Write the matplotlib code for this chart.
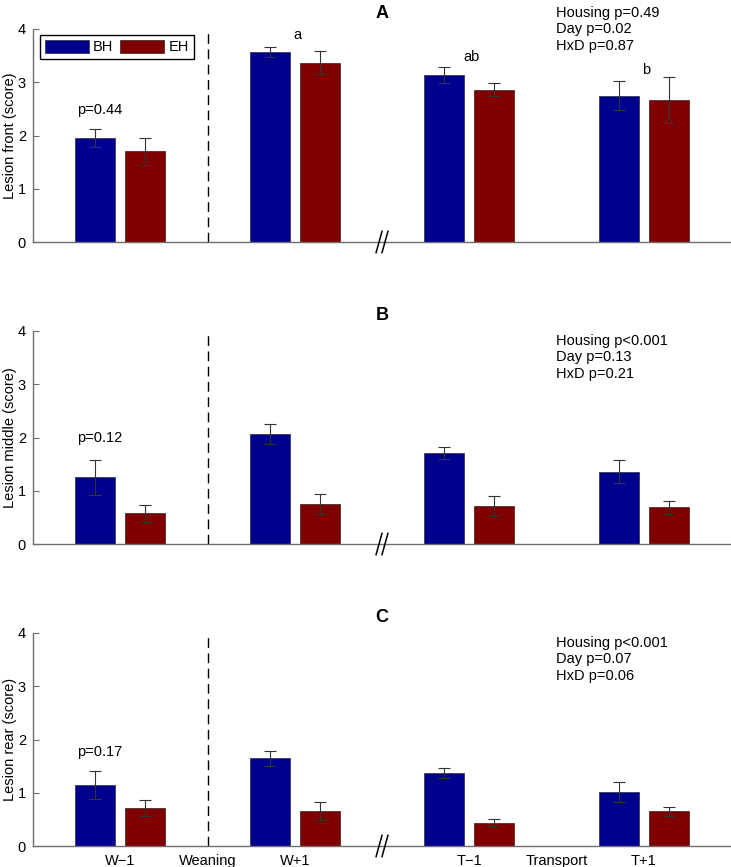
import matplotlib
matplotlib.use("Agg")
import matplotlib.pyplot as plt
import matplotlib.transforms as mtransforms
import numpy as np

plt.rcParams['font.family'] = ['Liberation Sans', 'DejaVu Sans']

# --- data -------------------------------------------------------------
days = ["W\u22121", "W+1", "T\u22121", "T+1"]
between = ["Weaning", "Transport"]
groups = ["BH", "EH"]

front_bh = [1.95, 3.57, 3.14, 2.75]
front_bh_err = [0.17, 0.10, 0.15, 0.28]
front_eh = [1.70, 3.37, 2.86, 2.67]
front_eh_err = [0.25, 0.22, 0.12, 0.43]

middle_bh = [1.25, 2.07, 1.71, 1.36]
middle_bh_err = [0.33, 0.19, 0.12, 0.21]
middle_eh = [0.58, 0.75, 0.71, 0.69]
middle_eh_err = [0.16, 0.19, 0.19, 0.12]

rear_bh = [1.15, 1.65, 1.37, 1.01]
rear_bh_err = [0.26, 0.14, 0.10, 0.19]
rear_eh = [0.71, 0.65, 0.44, 0.65]
rear_eh_err = [0.15, 0.17, 0.06, 0.09]

panel_letters = ["A", "B", "C"]
ylabels = ["Lesion front (score)", "Lesion middle (score)", "Lesion rear (score)"]
p_first = ["p=0.44", "p=0.12", "p=0.17"]
p_first_y = [2.48, 1.99, 1.77]
stats = [
    "Housing p=0.49\nDay p=0.02\nHxD p=0.87",
    "Housing p<0.001\nDay p=0.13\nHxD p=0.21",
    "Housing p<0.001\nDay p=0.07\nHxD p=0.06",
]
stats_y = [4.43, 3.94, 3.94]
day_letters = {1: ("a", 3.89), 2: ("ab", 3.47), 3: ("b", 3.23)}

panels = [
    (front_bh, front_bh_err, front_eh, front_eh_err),
    (middle_bh, middle_bh_err, middle_eh, middle_eh_err),
    (rear_bh, rear_bh_err, rear_eh, rear_eh_err),
]

bh_color = "#00008f"
eh_color = "#800000"
spine_color = "#6e6e6e"

fig = plt.figure(figsize=(7.31, 8.67), dpi=100)
bottoms = [1 - 242 / 867, 1 - 544 / 867, 1 - 846 / 867]
left = 33 / 731
width = 698 / 731
height = 213 / 867

x = np.arange(1, len(days) + 1)
offset = 0.143
bw = 0.23

for i, (bh, bh_err, eh, eh_err) in enumerate(panels):
    ax = fig.add_axes([left, bottoms[i], width, height])
    ax.bar(x - offset, bh, bw, color=bh_color, edgecolor="#3a3a5a",
           linewidth=0.6, label=groups[0], zorder=2)
    ax.bar(x + offset, eh, bw, color=eh_color, edgecolor="#4a3030",
           linewidth=0.6, label=groups[1], zorder=2)
    ax.errorbar(x - offset, bh, yerr=bh_err, fmt="none", ecolor="#333333",
                elinewidth=0.8, capsize=4, capthick=0.8, zorder=3)
    ax.errorbar(x + offset, eh, yerr=eh_err, fmt="none", ecolor="#333333",
                elinewidth=0.8, capsize=4, capthick=0.8, zorder=3)

    ax.set_xlim(0.5, 4.5)
    ax.set_ylim(0, 4)
    ax.set_yticks([0, 1, 2, 3, 4])
    ax.tick_params(axis="y", direction="in", length=4, width=0.8,
                   color=spine_color, labelsize=10.5, pad=5)
    ax.tick_params(axis="x", length=0, labelsize=10.5, pad=6)
    for side in ["top", "right"]:
        ax.spines[side].set_visible(False)
    for side in ["left", "bottom"]:
        ax.spines[side].set_color(spine_color)
        ax.spines[side].set_linewidth(1.0)

    if i == 2:
        ax.set_xticks([1, 1.5, 2, 3, 3.5, 4])
        ax.set_xticklabels([days[0], between[0], days[1], days[2], between[1], days[3]])
    else:
        ax.set_xticks([])

    ax.set_ylabel(ylabels[i], fontsize=10.5)
    ax.yaxis.set_label_coords(-0.023, 0.5)
    ax.set_title(panel_letters[i], fontweight="bold", fontsize=13, pad=8)

    # weaning separator
    ax.plot([1.5, 1.5], [0, 4], color="black", lw=1.0,
            linestyle=(0, (7, 4)), zorder=1)

    # axis break marks
    trans = mtransforms.blended_transform_factory(ax.transData, ax.transAxes)
    for c in (2.5 - 0.017, 2.5 + 0.017):
        ax.plot([c - 0.017, c + 0.017], [-0.05, 0.05], color="black",
                lw=1.1, transform=trans, clip_on=False, zorder=4)

    ax.text(0.753, p_first_y[i], p_first[i], fontsize=10.5, ha="left", va="center")
    ax.text(3.5, stats_y[i], stats[i], fontsize=10.5, ha="left", va="top",
            linespacing=1.2, clip_on=False)

    if i == 0:
        for k, (txt, yy) in day_letters.items():
            ax.text(x[k] + 0.015, yy, txt, fontsize=10.5, ha="center", va="center")
        ax.legend(loc="upper left", bbox_to_anchor=(0.01, 0.972), ncol=2,
                  frameon=True, fancybox=False, edgecolor="black",
                  framealpha=1, fontsize=10.5, handlelength=3.0,
                  handleheight=0.95, handletextpad=0.3, columnspacing=0.45,
                  borderpad=0.35, borderaxespad=0)

fig.savefig("out.png", dpi=100)
